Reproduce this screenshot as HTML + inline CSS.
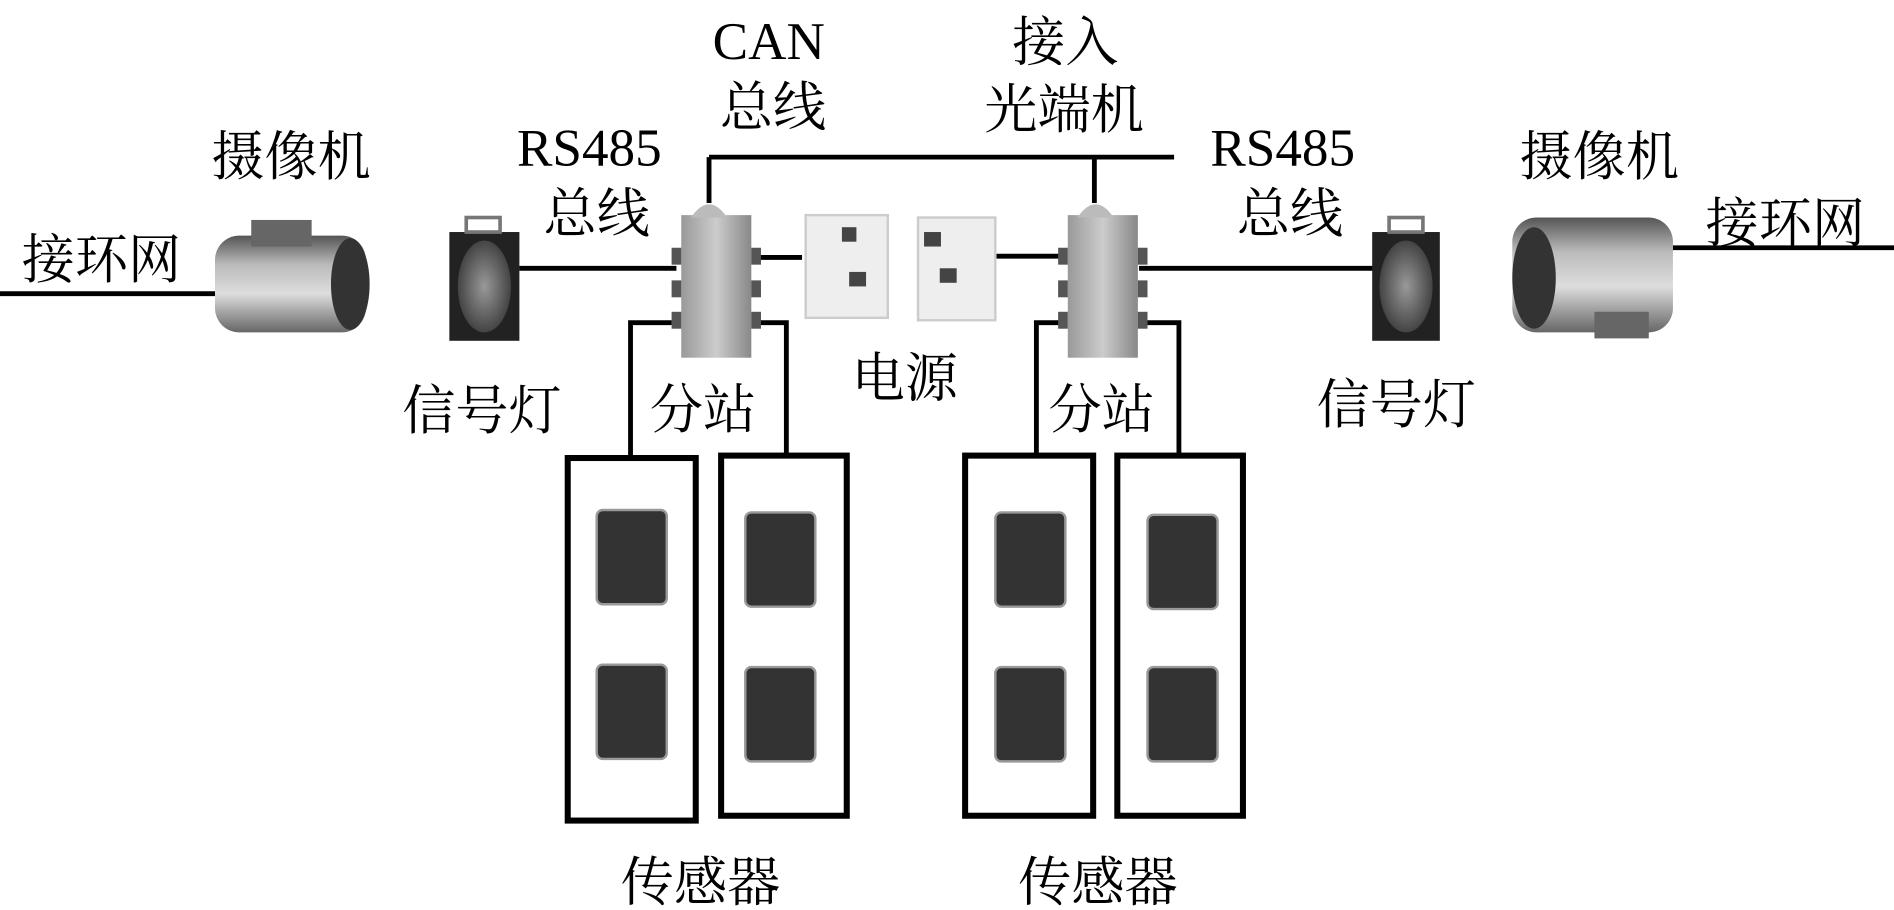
<!DOCTYPE html>
<html><head><meta charset="utf-8"><style>
html,body{margin:0;padding:0;background:#fff;}
svg{display:block;}
text{font-family:"Liberation Serif","Noto Serif CJK SC",serif;fill:#000;}
</style></head><body>
<svg width="1894" height="910" viewBox="0 0 1568 753" preserveAspectRatio="none" xmlns="http://www.w3.org/2000/svg">
<defs>
<linearGradient id="cam" x1="0" y1="0" x2="0" y2="1">
<stop offset="0" stop-color="#555"/><stop offset="0.3" stop-color="#bbb"/><stop offset="0.6" stop-color="#ddd"/><stop offset="1" stop-color="#666"/>
</linearGradient>
<linearGradient id="st" x1="0" y1="0" x2="1" y2="0">
<stop offset="0" stop-color="#999"/><stop offset="0.5" stop-color="#ccc"/><stop offset="1" stop-color="#888"/>
</linearGradient>
<radialGradient id="sig"><stop offset="0" stop-color="#999"/><stop offset="1" stop-color="#444"/></radialGradient>
</defs>
<g stroke="#000" stroke-width="4" fill="none">
<line x1="0" y1="243" x2="178" y2="243"/>
<line x1="430" y1="222" x2="560" y2="222"/>
<line x1="587" y1="130" x2="972" y2="130"/>
<line x1="587" y1="130" x2="587" y2="168"/>
<line x1="906" y1="130" x2="906" y2="168"/>
<line x1="623" y1="213" x2="664" y2="213"/>
<line x1="825" y1="212" x2="880" y2="212"/>
<line x1="943" y1="222" x2="1140" y2="222"/>
<line x1="1385" y1="205" x2="1568" y2="205"/>
<polyline points="556,267 522,267 522,379"/>
<polyline points="623,267 651,267 651,379"/>
<polyline points="878,267 858,267 858,379"/>
<polyline points="943,267 976,267 976,379"/>
<rect x="470" y="379" width="106" height="300" stroke-width="5"/>
<rect x="597" y="377" width="104" height="298" stroke-width="5"/>
<rect x="799" y="377" width="106" height="298" stroke-width="5"/>
<rect x="925" y="377" width="104" height="298" stroke-width="5"/>
</g>
<g fill="#333" stroke="#999" stroke-width="2">
<rect x="494" y="422" width="58" height="78" rx="5"/>
<rect x="494" y="550" width="58" height="78" rx="5"/>
<rect x="617" y="424" width="58" height="78" rx="5"/>
<rect x="617" y="552" width="58" height="78" rx="5"/>
<rect x="824" y="424" width="58" height="78" rx="5"/>
<rect x="824" y="552" width="58" height="78" rx="5"/>
<rect x="950" y="426" width="58" height="78" rx="5"/>
<rect x="950" y="552" width="58" height="78" rx="5"/>
</g>
<!-- cameras -->
<rect x="178" y="195" width="125" height="80" rx="20" fill="url(#cam)"/>
<rect x="208" y="182" width="50" height="22" fill="#666"/>
<ellipse cx="290" cy="235" rx="16" ry="38" fill="#333"/>
<rect x="1252" y="180" width="133" height="95" rx="20" fill="url(#cam)"/>
<ellipse cx="1270" cy="230" rx="18" ry="42" fill="#333"/>
<rect x="1320" y="258" width="45" height="22" fill="#666"/>
<!-- signal lights -->
<rect x="372" y="192" width="58" height="90" fill="#222"/>
<ellipse cx="401" cy="237" rx="22" ry="38" fill="url(#sig)"/>
<rect x="386" y="180" width="28" height="12" fill="none" stroke="#777" stroke-width="3"/>
<rect x="1136" y="192" width="56" height="90" fill="#222"/>
<ellipse cx="1164" cy="237" rx="22" ry="38" fill="url(#sig)"/>
<rect x="1150" y="180" width="28" height="12" fill="none" stroke="#777" stroke-width="3"/>
<!-- stations -->
<g fill="url(#st)">
<rect x="564" y="178" width="58" height="118"/>
<rect x="884" y="178" width="58" height="118"/>
</g>
<g fill="#bbb">
<path d="M572 180 Q587 158 602 180 Z"/><path d="M892 180 Q907 158 922 180 Z"/>
</g>
<g fill="#555">
<rect x="556" y="205" width="8" height="14"/><rect x="556" y="232" width="8" height="14"/><rect x="556" y="258" width="8" height="14"/>
<rect x="622" y="205" width="8" height="14"/><rect x="622" y="232" width="8" height="14"/><rect x="622" y="258" width="8" height="14"/>
<rect x="876" y="205" width="8" height="14"/><rect x="876" y="232" width="8" height="14"/><rect x="876" y="258" width="8" height="14"/>
<rect x="942" y="205" width="8" height="14"/><rect x="942" y="232" width="8" height="14"/><rect x="942" y="258" width="8" height="14"/>
</g>
<!-- power -->
<rect x="667" y="178" width="68" height="85" fill="#eee" stroke="#ccc" stroke-width="2"/>
<rect x="697" y="188" width="12" height="12" fill="#444"/><rect x="703" y="225" width="14" height="12" fill="#444"/>
<rect x="760" y="180" width="64" height="85" fill="#eee" stroke="#ccc" stroke-width="2"/>
<rect x="765" y="192" width="14" height="12" fill="#444"/><rect x="778" y="222" width="14" height="12" fill="#444"/>
<!-- labels -->
<g font-size="44">
<text x="18" y="230">接环网</text>
<text x="175" y="145">摄像机</text>
<text x="428" y="137">RS485</text>
<text x="450" y="192">总线</text>
<text x="590" y="49">CAN</text>
<text x="596" y="104">总线</text>
<text x="838" y="50">接入</text>
<text x="815" y="106">光端机</text>
<text x="1002" y="137">RS485</text>
<text x="1024" y="192">总线</text>
<text x="1258" y="145">摄像机</text>
<text x="1412" y="200">接环网</text>
<text x="333" y="355">信号灯</text>
<text x="1090" y="350">信号灯</text>
<text x="538" y="354">分站</text>
<text x="868" y="354">分站</text>
<text x="705" y="328">电源</text>
<text x="514" y="745">传感器</text>
<text x="843" y="745">传感器</text>
</g>
</svg>
</body></html>
